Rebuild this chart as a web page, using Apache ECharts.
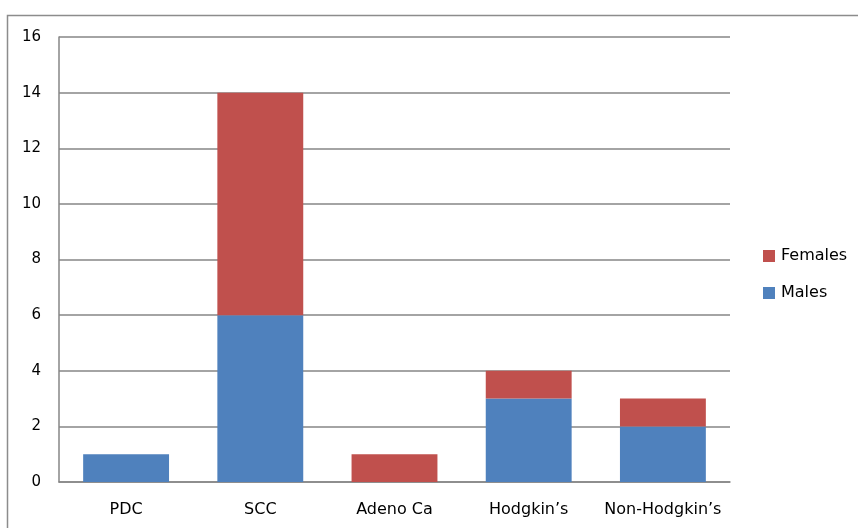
<!DOCTYPE html>
<html>
<head>
<meta charset="utf-8">
<script src="https://cdn.jsdelivr.net/npm/echarts@6/dist/echarts.min.js"></script>
<style>
  html, body { margin: 0; padding: 0; background: #fff; }
  #chart { width: 858px; height: 528px; }
</style>
</head>
<body>
<div id="chart"></div>
<script>
// Cancer types and patient counts split by sex
const categories = ['PDC', 'SCC', 'Adeno Ca', 'Hodgkin\u2019s', 'Non-Hodgkin\u2019s'];
const males = [1, 6, 0, 3, 2];
const females = [0, 8, 1, 1, 1];
const yTicks = { min: 0, max: 16, interval: 2 };

const font = '"DejaVu Sans", "Noto Sans", sans-serif';
const chart = echarts.init(document.getElementById('chart'));

chart.setOption({
  animation: false,
  textStyle: { fontFamily: font },
  graphic: [{
    type: 'rect',
    shape: { x: 7.5, y: 15.5, width: 900, height: 600 },
    style: { fill: 'none', stroke: '#8c8c8c', lineWidth: 1.5 },
    silent: true
  }],
  grid: { left: 59, right: 128, top: 37, bottom: 46 },
  legend: {
    orient: 'vertical',
    left: 758,
    top: 243,
    itemWidth: 12,
    itemHeight: 12,
    itemGap: 21,
    itemStyle: { borderWidth: 0 },
    icon: 'rect',
    textStyle: { fontSize: 16, color: '#000', fontFamily: font, padding: [0, 0, 0, 1] },
    data: ['Females', 'Males']
  },
  xAxis: {
    type: 'category',
    data: categories,
    axisLine: { show: true, lineStyle: { color: '#868686', width: 1.5 } },
    axisTick: { show: false },
    axisLabel: { interval: 0, hideOverlap: false, fontSize: 16, color: '#000', margin: 20, fontFamily: font }
  },
  yAxis: {
    type: 'value',
    min: yTicks.min,
    max: yTicks.max,
    interval: yTicks.interval,
    axisLine: { show: true, lineStyle: { color: '#868686', width: 1.5 } },
    axisTick: { show: false },
    splitLine: { lineStyle: { color: '#868686', width: 1.5 } },
    axisLabel: { fontSize: 15, color: '#000', margin: 18, fontFamily: font }
  },
  series: [
    {
      name: 'Males',
      type: 'bar',
      stack: 'total',
      data: males,
      barWidth: '64%',
      itemStyle: { color: '#4F81BD' }
    },
    {
      name: 'Females',
      type: 'bar',
      stack: 'total',
      data: females,
      barWidth: '64%',
      itemStyle: { color: '#C0504D' }
    }
  ]
});
</script>
</body>
</html>
